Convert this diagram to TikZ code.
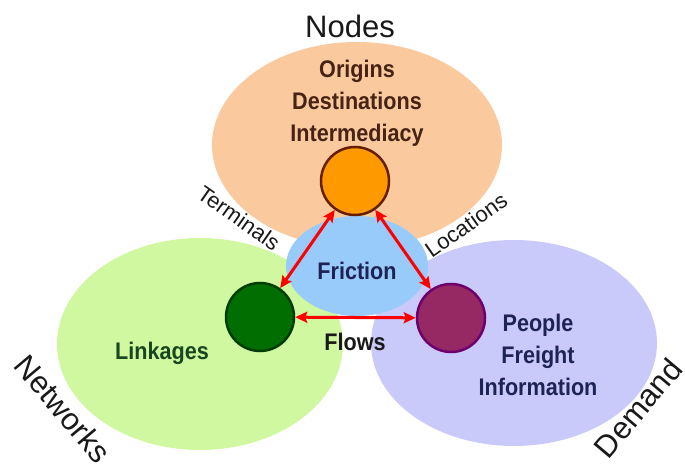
\documentclass[tikz,border=0pt]{standalone}
\usepackage{fontspec}
\setmainfont{Liberation Sans}
\newfontfamily\innerfont[FakeStretch=0.9]{Liberation Sans}
\usetikzlibrary{shapes.geometric,arrows.meta}
\definecolor{peach}{RGB}{250,202,158}
\definecolor{lime}{RGB}{208,248,160}
\definecolor{lavender}{RGB}{202,202,250}
\definecolor{skyblue}{RGB}{152,202,250}
\definecolor{hubfill}{RGB}{255,153,0}
\definecolor{hubline}{RGB}{100,30,0}
\definecolor{linkfill}{RGB}{0,110,0}
\definecolor{linkline}{RGB}{0,60,0}
\definecolor{demfill}{RGB}{150,40,100}
\definecolor{demline}{RGB}{110,0,110}
\definecolor{browntext}{RGB}{70,35,20}
\definecolor{greentext}{RGB}{25,70,30}
\definecolor{navytext}{RGB}{30,35,85}
\definecolor{labeltext}{RGB}{25,25,25}
\begin{document}
\begin{tikzpicture}[x=1pt,y=-1pt]
        \tikzset{realm/.style={ellipse,draw=none,inner sep=0pt},
          core/.style={circle,minimum size=68pt,inner sep=0pt,line width=2.5pt},
          inner/.style={font=\innerfont\bfseries\fontsize{24}{32}\selectfont,align=center},
          outer/.style={font=\fontsize{22}{24}\selectfont,text=labeltext},
          title/.style={font=\fontsize{31}{36}\selectfont,text=labeltext},
          flow/.style={draw=red,line width=3pt,
            {Stealth[length=12pt,width=11pt,inset=2pt]}-{Stealth[length=12pt,width=11pt,inset=2pt]}}}
        \useasboundingbox (0,0) rectangle (685,465);
        \node[realm,fill=peach,minimum width=290pt,minimum height=206pt] (nodes) at (357,145) {};
        \node[realm,fill=lime,minimum width=286pt,minimum height=212pt] (networks) at (200,344) {};
        \node[realm,fill=lavender,minimum width=286pt,minimum height=206pt] (demand) at (514,343) {};
        \node[realm,fill=skyblue,minimum width=142pt,minimum height=100pt] (friction) at (357,266) {};
        \node[core,fill=hubfill,draw=hubline] (hub) at (355,181) {};
        \node[core,fill=linkfill,draw=linkline] (link) at (260,317) {};
        \node[core,fill=demfill,draw=demline] (dem) at (451,318) {};
        \draw[flow] (hub) -- (link);
        \draw[flow] (hub) -- (dem);
        \draw[flow] (link) -- (dem);
        \node[title] (nodestitle) at (350,26) {Nodes};
        \node[title,rotate=-50] (networkstitle) at (63,409) {Networks};
        \node[title,rotate=50] (demandtitle) at (638,408) {Demand};
        \node[inner,text=browntext] (hubtext) at (357,103) {Origins\\Destinations\\Intermediacy};
        \node[inner,text=navytext] (frictiontext) at (357,271) {Friction};
        \node[inner,text=greentext] (linktext) at (162,353) {Linkages};
        \node[inner,text=navytext] (demtext) at (538,355) {People\\Freight\\Information};
        \node[inner,text=labeltext] (flowtext) at (355,342) {Flows};
        \node[outer,rotate=-35] (terminals) at (239,218) {Terminals};
        \node[outer,rotate=35] (locations) at (466,225) {Locations};
\end{tikzpicture}
\end{document}
